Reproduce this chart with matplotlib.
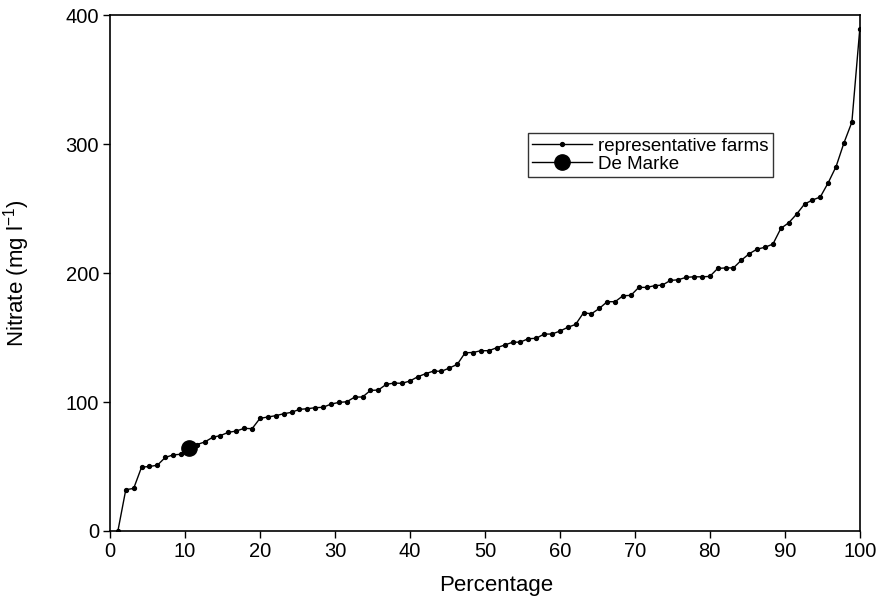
import matplotlib
matplotlib.use("Agg")
import matplotlib.pyplot as plt

plt.rcParams['font.family'] = ['Liberation Sans', 'DejaVu Sans']

# Nitrate concentrations of representative farms, sorted (mg/l)
nitrate = [0, 32, 33, 49.5, 50, 51, 57, 59, 59.5, 64.6,
           67, 69, 72.6, 74, 76.5, 77.5, 79.6, 79.3, 87.3, 88.4,
           89.4, 90.9, 92, 94.3, 94.8, 95.6, 95.9, 98.4, 99.7, 100.2,
           103.8, 103.9, 109, 109.3, 113.7, 114.7, 114.5, 116.3, 119.6, 122,
           124, 123.8, 126.4, 129.2, 138.2, 138.4, 139.8, 139.8, 142.1, 144.2,
           146.3, 146.5, 149.1, 149.4, 152.7, 152.7, 155, 157.9, 160.2, 169.2,
           168.4, 172.6, 177.8, 177.8, 182.4, 182.7, 188.9, 188.9, 190.2, 190.7,
           194.3, 194.8, 196.7, 197.1, 197.1, 197.4, 203.6, 204, 204, 210,
           215, 218.6, 220, 222.5, 234.6, 239, 245.7, 253.5, 256.6, 259,
           270, 282.6, 301, 317, 389]
# cumulative percentage of farms (rank / number of farms)
percentage = [100.0 * r / len(nitrate) for r in range(1, len(nitrate) + 1)]

demarke_pct = [10.53]
demarke_nitrate = [64.6]

x_ticks = [0, 10, 20, 30, 40, 50, 60, 70, 80, 90, 100]
y_ticks = [0, 100, 200, 300, 400]

fig = plt.figure(figsize=(8.8, 5.97), dpi=100)
ax = fig.add_axes([0.125, 0.1106, 0.852, 0.864])

ax.plot(percentage, nitrate, color='black', linewidth=1.0, marker='o',
        markersize=2.8, label='representative farms')
ax.plot(demarke_pct, demarke_nitrate, color='black', linewidth=1.0, marker='o',
        markersize=11, linestyle='-', label='De Marke')

ax.set_xlim(0, 100)
ax.set_ylim(0, 400)
ax.set_xticks(x_ticks)
ax.set_yticks(y_ticks)
ax.tick_params(direction='out', length=5, width=1, labelsize=14.5,
               colors='black', pad=3)
for s in ax.spines.values():
    s.set_linewidth(1.2)
    s.set_color('black')

ax.set_xlabel('Percentage', fontsize=16, labelpad=0)
ax.xaxis.set_label_coords(0.515, -0.085)
ax.set_ylabel('Nitrate (mg l$^{\\mathregular{-1}}$)', fontsize=16)
ax.yaxis.set_label_coords(-0.104, 0.5)

leg = ax.legend(loc='upper left', bbox_to_anchor=(0.557, 0.772), frameon=True,
                fancybox=False, edgecolor='black', fontsize=13.5,
                handlelength=3.2, borderpad=0.25, labelspacing=0.05,
                handletextpad=0.3, borderaxespad=0)
leg.get_frame().set_linewidth(1.0)

fig.savefig('out.png', dpi=100)
